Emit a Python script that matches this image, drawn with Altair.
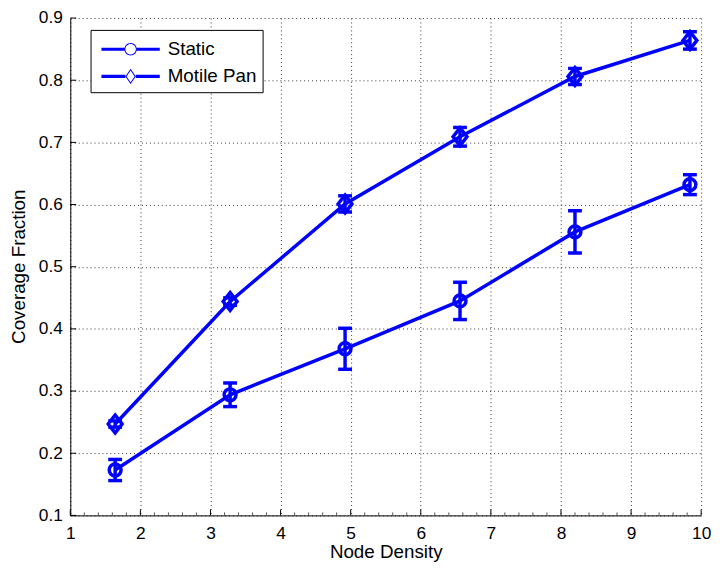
import altair as alt
import pandas as pd

# ---- data ----
x_vals = [1.64, 3.28, 4.92, 6.56, 8.20, 9.84]
static_mean = [0.173, 0.294, 0.368, 0.445, 0.556, 0.632]
static_err = [0.017, 0.019, 0.033, 0.030, 0.034, 0.016]
motile_mean = [0.247, 0.444, 0.601, 0.709, 0.806, 0.864]
motile_err = [0.005, 0.006, 0.013, 0.015, 0.013, 0.014]
series_names = ["Static", "Motile Pan"]

x_ticks = [1, 2, 3, 4, 5, 6, 7, 8, 9, 10]
y_ticks = [0.1, 0.2, 0.3, 0.4, 0.5, 0.6, 0.7, 0.8, 0.9]
x_minor = [round(a + b, 1) for a in range(1, 10) for b in (0.2, 0.4, 0.6, 0.8)]

rows = []
for name, means, errs in [(series_names[0], static_mean, static_err),
                          (series_names[1], motile_mean, motile_err)]:
    for xi, m, e in zip(x_vals, means, errs):
        rows.append({"series": name, "x": xi, "y": m, "lo": m - e, "hi": m + e})
df = pd.DataFrame(rows)

BLUE = "#0000ff"
FONT = "Liberation Sans"
W, H = 638, 503
LW = 3.5

xscale = alt.Scale(domain=[1, 10], nice=False, zero=False)
yscale = alt.Scale(domain=[0.1, 0.9], nice=False, zero=False)

xaxis = alt.Axis(values=x_ticks, format="d", title="Node Density", grid=True,
                 gridDash=[1, 3], gridColor="#333333", gridWidth=1,
                 ticks=False, tickSize=0, labelPadding=9, labelFont=FONT,
                 labelFontSize=17.5, labelColor="black", labelFlush=False,
                 labelOverlap=False, domainColor="black", domainWidth=1,
                 titleFont=FONT, titleFontSize=19, titleFontWeight="normal",
                 titleColor="black", titleX=319, titleY=43,
                 titleBaseline="alphabetic", titleAlign="center")
yaxis = alt.Axis(values=y_ticks, format=".1f", title="Coverage Fraction", grid=True,
                 gridDash=[1, 3], gridColor="#333333", gridWidth=1,
                 ticks=False, tickSize=0, labelPadding=8, labelFont=FONT,
                 labelFontSize=17.5, labelColor="black", labelFlush=False,
                 labelOverlap=False, domainColor="black", domainWidth=1,
                 titleFont=FONT, titleFontSize=19, titleFontWeight="normal",
                 titleColor="black", titleAngle=270, titleX=-46, titleY=251,
                 titleBaseline="alphabetic", titleAlign="center")

base = alt.Chart(df)

line = base.mark_line(color=BLUE, strokeWidth=LW).encode(
    x=alt.X("x:Q", scale=xscale, axis=xaxis),
    y=alt.Y("y:Q", scale=yscale, axis=yaxis),
    detail="series:N",
)

err = base.mark_rule(color=BLUE, strokeWidth=LW).encode(
    x="x:Q", y="lo:Q", y2="hi:Q")
cap_lo = base.mark_tick(color=BLUE, orient="horizontal", size=14, thickness=LW,
                        opacity=1).encode(x="x:Q", y="lo:Q")
cap_hi = base.mark_tick(color=BLUE, orient="horizontal", size=14, thickness=LW,
                        opacity=1).encode(x="x:Q", y="hi:Q")

DIAMOND = "M0,-1L0.78,0L0,1L-0.78,0Z"
pts_static = base.transform_filter(alt.datum.series == series_names[0]).mark_point(
    shape="circle", size=144, filled=False, color=BLUE, strokeWidth=LW, opacity=1
).encode(x="x:Q", y="y:Q")
pts_motile = base.transform_filter(alt.datum.series == series_names[1]).mark_point(
    shape=DIAMOND, size=324, filled=False, color=BLUE, strokeWidth=LW, opacity=1
).encode(x="x:Q", y="y:Q")

# legend symbols: unit = 13.5 px (symbolSize 729)
LEG_CIRCLE = ("M-2.185,-0.115H-0.467V0.115H-2.185Z M0.467,-0.115H2.185V0.115H0.467Z "
              "M0.467,0A0.467,0.467 0 1,0 -0.467,0A0.467,0.467 0 1,0 0.467,0Z "
              "M0.393,0A0.393,0.393 0 1,1 -0.393,0A0.393,0.393 0 1,1 0.393,0Z")
LEG_DIAMOND = ("M-2.185,-0.115H-0.393V0.115H-2.185Z M0.393,-0.115H2.185V0.115H0.393Z "
               "M0,-0.578L0.393,0L0,0.578L-0.393,0Z "
               "M0,-0.444L-0.304,0L0,0.444L0.304,0Z")

legend_layer = base.transform_filter("false").mark_point(
    filled=True, color=BLUE, opacity=1, strokeWidth=0
).encode(
    x="x:Q", y="y:Q",
    shape=alt.Shape("series:N",
                    scale=alt.Scale(domain=series_names, range=[LEG_CIRCLE, LEG_DIAMOND]),
                    legend=alt.Legend(title=None, orient="none", legendX=20.5, legendY=12,
                                      symbolSize=729, symbolStrokeWidth=0,
                                      symbolOffset=21,
                                      symbolFillColor=BLUE, symbolOpacity=1,
                                      labelFont=FONT, labelFontSize=19, labelColor="black",
                                      labelOffset=24, labelLimit=300, padding=6,
                                      rowPadding=3.5, strokeColor="black",
                                      fillColor="white")),
)

xt_df = pd.DataFrame({"x": x_ticks})
xm_df = pd.DataFrame({"x": x_minor})
yt_df = pd.DataFrame({"y": y_ticks})

x_major_ticks = alt.Chart(xt_df).mark_rule(color="black", strokeWidth=1).encode(
    x="x:Q", y=alt.value(H), y2=alt.value(H - 6))
x_minor_ticks = alt.Chart(xm_df).mark_rule(color="#555555", strokeWidth=1).encode(
    x="x:Q", y=alt.value(H), y2=alt.value(H - 3))
y_major_ticks = alt.Chart(yt_df).mark_rule(color="black", strokeWidth=1).encode(
    y="y:Q", x=alt.value(0), x2=alt.value(6))

chart = alt.layer(
    line, x_major_ticks, x_minor_ticks, y_major_ticks,
    err, cap_lo, cap_hi, pts_static, pts_motile, legend_layer
).properties(
    width=W, height=H,
    autosize=alt.AutoSizeParams(type="none"),
    padding={"left": 63, "top": 7, "right": 13, "bottom": 46},
    background="white",
).configure(font=FONT).configure_view(strokeOpacity=0)

chart.save("out.html", embed_options={"renderer": "svg", "actions": False})
